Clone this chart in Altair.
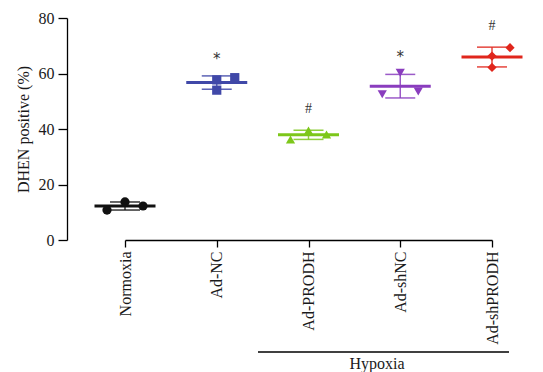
import altair as alt
import pandas as pd

groups = ["Normoxia", "Ad-NC", "Ad-PRODH", "Ad-shNC", "Ad-shPRODH"]
colors = ["#111111", "#4048A8", "#7DC71A", "#8A3DBE", "#E0261C"]
shapes = ["circle", "square", "triangle-up", "triangle-down", "diamond"]

normoxia = [10.8, 13.7, 12.25]
ad_nc = [57.7, 58.5, 54.0]
ad_prodh = [36.2, 39.5, 38.0]
ad_shnc = [60.3, 52.5, 53.5]
ad_shprodh = [69.3, 66.3, 62.2]
series = [normoxia, ad_nc, ad_prodh, ad_shnc, ad_shprodh]

# horizontal lane of each replicate dot (-1 left, 0 centre, 1 right)
lanes = [[-1, 0, 1], [0, 1, 0], [-1, 0, 1], [0, -1, 1], [1, 0, 0]]
signif = ["", "*", "#", "*", "#"]

rows = []
for g, vals, ln in zip(groups, series, lanes):
    for v, l in zip(vals, ln):
        rows.append({"group": g, "value": v, "lane": l})
df = pd.DataFrame(rows)
sig_df = pd.DataFrame({"group": groups, "sig": signif})

FONT = "Liberation Serif"
FS = 16

xscale = alt.Scale(type="point", domain=groups, range=[58, 425], padding=0)
x_enc = alt.X("group:N", scale=xscale, sort=groups,
              axis=alt.Axis(title=None, labelAngle=270, tickSize=7, labelPadding=4,
                            labelFontSize=FS, labelFont=FONT, labelColor="#1a1a1a",
                            domainColor="#000000", tickColor="#000000",
                            domainWidth=1.3, tickWidth=1.3))
yscale = alt.Scale(domain=[0, 80], nice=False)
y_axis = alt.Axis(values=[0, 20, 40, 60, 80], title="DHEN positive (%)", tickSize=9,
                  labelPadding=4, labelFontSize=FS, labelFont=FONT, labelColor="#1a1a1a",
                  titleFont=FONT, titleFontSize=FS, titleFontWeight="normal",
                  titleColor="#1a1a1a", titlePadding=7, grid=False,
                  domainColor="#000000", tickColor="#000000", domainWidth=1.3, tickWidth=1.3)
color_enc = alt.Color("group:N", scale=alt.Scale(domain=groups, range=colors), legend=None)

base = alt.Chart(df)
stats = base.transform_aggregate(
    mean="mean(value)", sd="stdev(value)", groupby=["group"]
).transform_calculate(lo="datum.mean - datum.sd", hi="datum.mean + datum.sd")

err = stats.mark_rule(strokeWidth=1.5, opacity=0.85).encode(
    x=x_enc, y=alt.Y("lo:Q", scale=yscale, axis=y_axis), y2="hi:Q", color=color_enc)
cap_lo = stats.mark_tick(size=30, thickness=1.5, opacity=0.85).encode(
    x=x_enc, y=alt.Y("lo:Q", scale=yscale), color=color_enc)
cap_hi = stats.mark_tick(size=30, thickness=1.5, opacity=0.85).encode(
    x=x_enc, y=alt.Y("hi:Q", scale=yscale), color=color_enc)
mean_line = stats.mark_tick(size=61, thickness=3, opacity=1).encode(
    x=x_enc, y=alt.Y("mean:Q", scale=yscale), color=color_enc)

points = base.mark_point(filled=True, opacity=1, size=85).encode(
    x=x_enc,
    xOffset=alt.XOffset("lane:O", scale=alt.Scale(type="point", domain=[-1, 0, 1],
                                                   range=[-18, 18], padding=0)),
    y=alt.Y("value:Q", scale=yscale),
    color=color_enc,
    shape=alt.Shape("group:N", scale=alt.Scale(domain=groups, range=shapes), legend=None),
)

sig_base = stats.transform_lookup(
    lookup="group", from_=alt.LookupData(sig_df, "group", ["sig"])
)
star_text = sig_base.transform_filter("datum.sig == '*'").mark_text(
    font="DejaVu Sans", fontSize=15, color="#333333", baseline="middle", dy=-17).encode(
    x=x_enc, y=alt.Y("hi:Q", scale=yscale), text="sig:N")
hash_text = sig_base.transform_filter("datum.sig == '#'").mark_text(
    font=FONT, fontSize=14, color="#333333", baseline="middle", dy=-21).encode(
    x=x_enc, y=alt.Y("hi:Q", scale=yscale), text="sig:N")

bracket = alt.Chart(pd.DataFrame({"label": ["Hypoxia"]})).mark_rule(
    color="#000000", strokeWidth=1.3).encode(
    x=alt.value(191), x2=alt.value(442), y=alt.value(334))
bracket_text = alt.Chart(pd.DataFrame({"label": ["Hypoxia"]})).mark_text(
    font=FONT, fontSize=FS, color="#1a1a1a", baseline="middle").encode(
    x=alt.value(310), y=alt.value(346), text="label:N")

chart = alt.layer(err, cap_lo, cap_hi, mean_line, points, star_text, hash_text,
                  bracket, bracket_text).properties(
    width=474, height=222,
    autosize=alt.AutoSizeParams(type="none"),
    padding={"left": 67, "top": 18, "right": 2, "bottom": 132},
).configure_view(stroke=None)

chart.save("out.html", embed_options={"renderer": "svg", "actions": False})
